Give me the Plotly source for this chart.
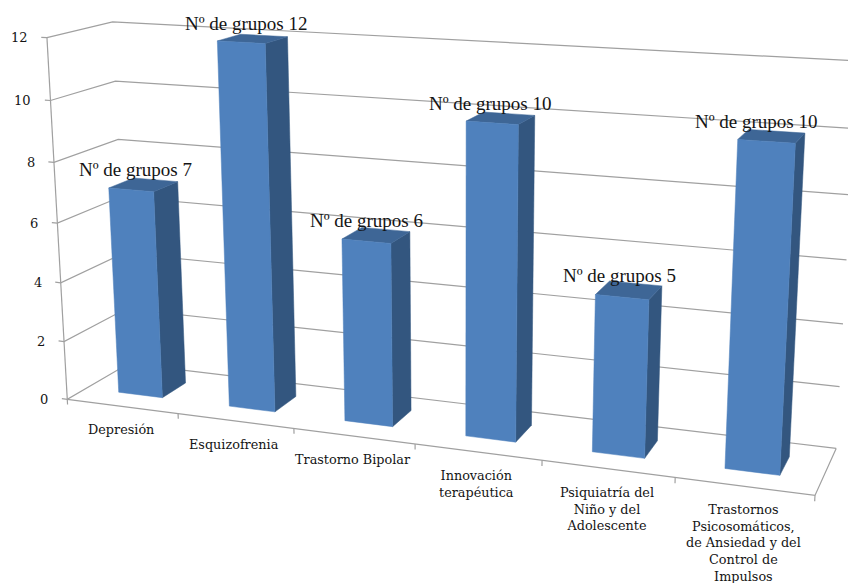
import numpy as np
import plotly.graph_objects as go

CATEGORIES = ["Depresión", "Esquizofrenia", "Trastorno Bipolar", "Innovación<br>terapéutica",
              "Psiquiatría del<br>Niño y del<br>Adolescente",
              "Trastornos<br>Psicosomáticos,<br>de Ansiedad y del<br>Control de<br>Impulsos"]
VALUES = [7, 12, 6, 10, 5, 10]
Z_TICKS = [0, 2, 4, 6, 8, 10, 12]

W, H = 848, 583

# Perspective camera: (category position, depth, value) -> plane coordinates
CAMERA = np.array([
    [106.9321, 69.25406, -1.886384, 67.26855],
    [5.265649, -13.66578, -30.29637, 399.3139],
    [-0.02170423, 0.06078867, -0.004121801, 1.0],
])

# Column footprint inside each category cell
BAR_LEFT, BAR_RIGHT = 0.3, 0.7
BAR_FRONT, BAR_BACK = 0.3, 0.7

FRONT, SIDE, TOP = "#4F81BD", "#33567F", "#3E6696"
GRID = "#A0A0A0"
TEXT = "#141414"
LABEL_SHIFT_X = [-8, -6, -10, -10, -9, -15]


def project(x, y, z):
    p = CAMERA @ np.array([x, y, z, 1.0])
    return float(p[0] / p[2]), float(p[1] / p[2])


def path(corners):
    xy = [project(*c) for c in corners]
    return [a for a, _ in xy], [b for _, b in xy]


fig = go.Figure()

# Walls, floor edges and tick marks
gx, gy = [], []
for t in Z_TICKS:
    a, b = path([(-.05, 0, t), (0, 0, t), (0, 1, t), (6, 1, t)])
    gx += a + [None]
    gy += b + [None]
frame = [[(0, 0, 0), (6, 0, 0), (6, 1, 0)], [(0, 0, 0), (0, 0, 12)]]
frame += [[(i, 0, 0), (i, 0, -.18)] for i in range(len(CATEGORIES) + 1)]
for seg in frame:
    a, b = path(seg)
    gx += a + [None]
    gy += b + [None]
fig.add_trace(go.Scatter(x=gx, y=gy, mode="lines", line=dict(color=GRID, width=1.2), hoverinfo="skip"))


def face(corners, colour):
    a, b = path(corners + corners[:1])
    fig.add_trace(go.Scatter(x=a, y=b, mode="lines", fill="toself", fillcolor=colour,
                             line=dict(color=colour, width=0.5), hoverinfo="skip"))


for n, v in enumerate(VALUES):
    x0, x1 = n + BAR_LEFT, n + BAR_RIGHT
    y0, y1 = BAR_FRONT, BAR_BACK
    face([(x1, y0, 0), (x1, y1, 0), (x1, y1, v), (x1, y0, v)], SIDE)
    face([(x0, y0, v), (x1, y0, v), (x1, y1, v), (x0, y1, v)], TOP)
    face([(x0, y0, 0), (x1, y0, 0), (x1, y0, v), (x0, y0, v)], FRONT)

anns = []
for n, v in enumerate(VALUES):
    px, py = project(n + .5, .5, v)
    anns.append(dict(x=px, y=py, xref="x", yref="y", text=f"Nº de grupos {v}", showarrow=False,
                     yshift=15, xshift=LABEL_SHIFT_X[n],
                     font=dict(family="Liberation Serif", size=19, color=TEXT)))
for n, c in enumerate(CATEGORIES):
    px, py = project(n + .5, 0, 0)
    anns.append(dict(x=px, y=py, xref="x", yref="y", text=c, showarrow=False, yanchor="top",
                     yshift=-14, xshift=-1,
                     font=dict(family="DejaVu Serif", size=12.8, color=TEXT)))
for t in Z_TICKS:
    px, py = project(0, 0, t)
    anns.append(dict(x=px, y=py, xref="x", yref="y", text=str(t), showarrow=False, xanchor="right", xshift=-17,
                     font=dict(family="DejaVu Serif", size=13, color=TEXT)))

fig.update_layout(width=W, height=H, margin=dict(l=0, r=0, t=0, b=0), showlegend=False,
                  paper_bgcolor="white", plot_bgcolor="white",
                  xaxis=dict(range=[0, W], visible=False, fixedrange=True),
                  yaxis=dict(range=[H, 0], visible=False, fixedrange=True),
                  annotations=anns)
fig.write_html("out.html")
